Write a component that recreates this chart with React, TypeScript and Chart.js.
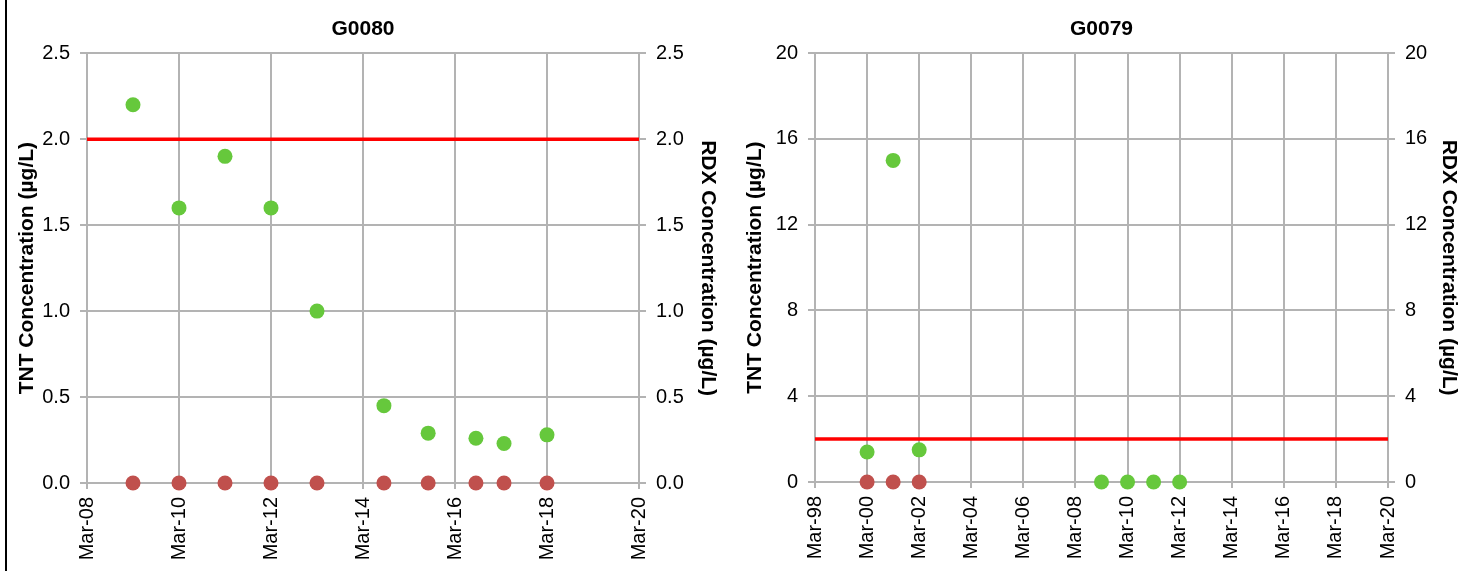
import { useEffect, useRef } from "react";
import { Chart, registerables } from "chart.js";

Chart.register(...registerables);

const FONT = "'Liberation Sans', Arial, Helvetica, sans-serif";

// ---- G0080 ----
const g80Title = "G0080";
const g80Dates = ["2009-03", "2010-03", "2011-03", "2012-03", "2013-03", "2014-08-15", "2015-08", "2016-08-15", "2017-03-25", "2018-03"];
const g80TNT = [2.2, 1.6, 1.9, 1.6, 1.0, 0.45, 0.29, 0.26, 0.23, 0.28];
const g80RDX = [0, 0, 0, 0, 0, 0, 0, 0, 0, 0];
const g80XTicks = ["2008-03", "2010-03", "2012-03", "2014-03", "2016-03", "2018-03", "2020-03"];
const g80YTicks = [0, 0.5, 1.0, 1.5, 2.0, 2.5];
const g80Limit = 2.0;

// ---- G0079 ----
const g79Title = "G0079";
const g79TNTDates = ["2000-03", "2001-03", "2002-03", "2009-03", "2010-03", "2011-03", "2012-03"];
const g79TNT = [1.4, 15, 1.5, 0, 0, 0, 0];
const g79RDXDates = ["2000-03", "2001-03", "2002-03"];
const g79RDX = [0, 0, 0];
const g79XTicks = ["1998-03", "2000-03", "2002-03", "2004-03", "2006-03", "2008-03", "2010-03", "2012-03", "2014-03", "2016-03", "2018-03", "2020-03"];
const g79YTicks = [0, 4, 8, 12, 16, 20];
const g79Limit = 2.0;

const leftTitle = "TNT Concentration (µg/L)";
const rightTitle = "RDX Concentration (µg/L)";

const MONTHS = ["Jan", "Feb", "Mar", "Apr", "May", "Jun", "Jul", "Aug", "Sep", "Oct", "Nov", "Dec"];

const GREEN = "#66c83c";
const RED_PT = "#c0504d";
const LIMIT = "#ff0000";
const GRID = "#b3b3b3";

function toYear(s: string): number {
  const [y, m, d] = s.split("-").map(Number);
  return y + (m - 1) / 12 + ((d || 1) - 1) / 365;
}
function dateLabel(s: string): string {
  const [y, m] = s.split("-").map(Number);
  return MONTHS[m - 1] + "-" + String(y % 100).padStart(2, "0");
}

interface Spec {
  title: string;
  tntDates: string[];
  tnt: number[];
  rdxDates: string[];
  rdx: number[];
  xTicks: string[];
  yTicks: number[];
  decimals: number;
  limit: number;
  leftW: number;
  rightW: number;
  bottomH: number;
}

function makeConfig(s: Spec): any {
  const xVals = s.xTicks.map(toYear);
  const xLabels = s.xTicks.map(dateLabel);
  const xMin = xVals[0];
  const xMax = xVals[xVals.length - 1];
  const yMin = s.yTicks[0];
  const yMax = s.yTicks[s.yTicks.length - 1];
  const tickFont = { family: FONT, size: 20 };
  const titleFont = { family: FONT, size: 21, weight: "bold" as const };
  const yScale = (pos: "left" | "right", text: string, w: number, onArea: boolean) => ({
    type: "linear",
    position: pos,
    min: yMin,
    max: yMax,
    afterBuildTicks: (sc: any) => {
      sc.ticks = s.yTicks.map((v) => ({ value: v }));
    },
    afterFit: (sc: any) => {
      sc.width = w;
    },
    ticks: {
      font: tickFont,
      color: "#000",
      padding: 10,
      callback: (v: any) => Number(v).toFixed(s.decimals),
    },
    grid: {
      color: GRID,
      lineWidth: 2,
      tickLength: 7,
      drawOnChartArea: onArea,
    },
    border: { color: GRID, width: 2 },
    title: {
      display: true,
      text,
      font: titleFont,
      color: "#000",
      padding: { top: pos === "left" ? 7 : 4, bottom: 0 },
    },
  });

  return {
    type: "scatter",
    data: {
      datasets: [
        {
          type: "scatter",
          label: "RDX",
          data: s.rdxDates.map((d, i) => ({ x: toYear(d), y: s.rdx[i] })),
          backgroundColor: RED_PT,
          borderColor: RED_PT,
          borderWidth: 0,
          pointRadius: 7.5,
          yAxisID: "y2",
          order: 0,
          clip: false,
        },
        {
          type: "scatter",
          label: "TNT",
          data: s.tntDates.map((d, i) => ({ x: toYear(d), y: s.tnt[i] })),
          backgroundColor: GREEN,
          borderColor: GREEN,
          borderWidth: 0,
          pointRadius: 7.5,
          yAxisID: "y",
          order: 1,
          clip: false,
        },
        {
          type: "line",
          label: "Limit",
          data: [
            { x: xMin, y: s.limit },
            { x: xMax, y: s.limit },
          ],
          borderColor: LIMIT,
          borderWidth: 3.5,
          pointRadius: 0,
          fill: false,
          yAxisID: "y",
          order: 2,
        },
      ],
    },
    options: {
      responsive: false,
      animation: false,
      events: [],
      layout: { padding: 0 },
      plugins: {
        legend: { display: false },
        tooltip: { enabled: false },
        title: {
          display: true,
          text: s.title,
          fullSize: false,
          font: titleFont,
          color: "#000",
          padding: { top: 17, bottom: 11 },
        },
      },
      scales: {
        x: {
          type: "linear",
          min: xMin,
          max: xMax,
          afterBuildTicks: (sc: any) => {
            sc.ticks = xVals.map((v) => ({ value: v }));
          },
          afterFit: (sc: any) => {
            sc.height = s.bottomH;
          },
          ticks: {
            font: tickFont,
            color: "#000",
            padding: 8,
            minRotation: 90,
            maxRotation: 90,
            autoSkip: false,
            callback: (_v: any, i: number) => xLabels[i],
          },
          grid: { color: GRID, lineWidth: 2, tickLength: 6 },
          border: { color: GRID, width: 2 },
        },
        y: yScale("left", leftTitle, s.leftW, true),
        y2: yScale("right", rightTitle, s.rightW, false),
      },
    },
  };
}

function ChartBox({ spec, left, width }: { spec: Spec; left: number; width: number }) {
  const ref = useRef<HTMLCanvasElement | null>(null);
  useEffect(() => {
    if (!ref.current) return;
    const chart = new Chart(ref.current, makeConfig(spec));
    return () => chart.destroy();
  }, [spec]);
  return (
    <canvas
      ref={ref}
      width={width}
      height={571}
      style={{ position: "absolute", left, top: 0, width, height: 571, display: "block" }}
    />
  );
}

const spec80: Spec = {
  title: g80Title,
  tntDates: g80Dates,
  tnt: g80TNT,
  rdxDates: g80Dates,
  rdx: g80RDX,
  xTicks: g80XTicks,
  yTicks: g80YTicks,
  decimals: 1,
  limit: g80Limit,
  leftW: 79,
  rightW: 85,
  bottomH: 88,
};

const spec79: Spec = {
  title: g79Title,
  tntDates: g79TNTDates,
  tnt: g79TNT,
  rdxDates: g79RDXDates,
  rdx: g79RDX,
  xTicks: g79XTicks,
  yTicks: g79YTicks,
  decimals: 0,
  limit: g79Limit,
  leftW: 79,
  rightW: 77,
  bottomH: 89,
};

export default function App() {
  return (
    <div
      style={{
        position: "absolute",
        left: 0,
        top: 0,
        width: 1466,
        height: 571,
        background: "#fff",
        overflow: "hidden",
      }}
    >
      <div style={{ position: "absolute", left: 5, top: 0, width: 2, height: 571, background: "#000" }} />
      <ChartBox spec={spec80} left={8} width={716} />
      <ChartBox spec={spec79} left={736} width={729} />
    </div>
  );
}
